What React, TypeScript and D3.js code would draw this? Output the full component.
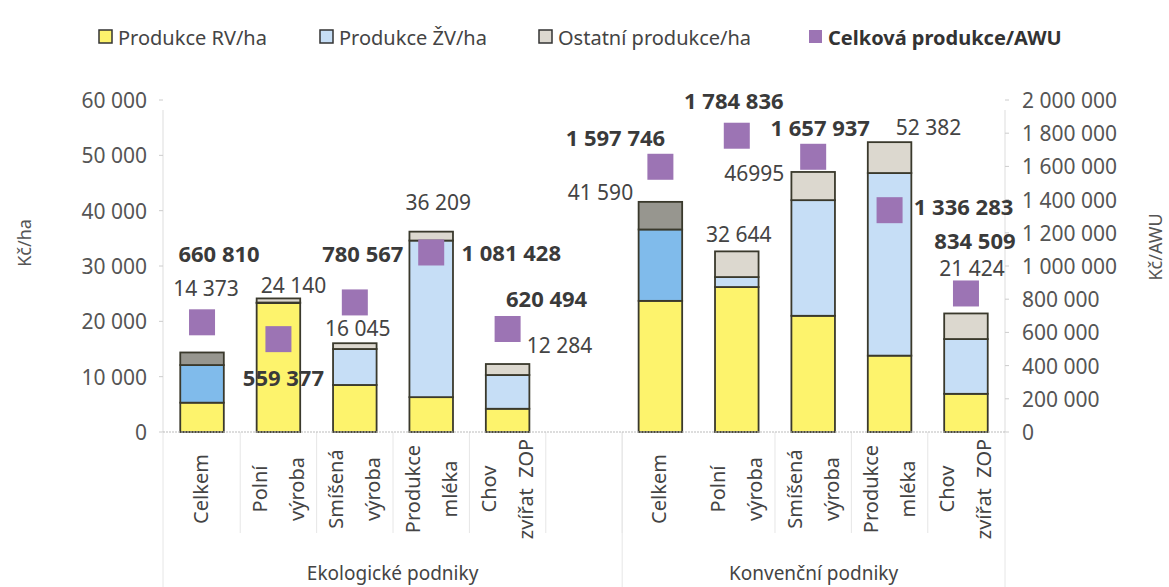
import React from "react";
import * as d3 from "d3";

// categories and groups
const categories = [
  ["Celkem"],
  ["Polní", "výroba"],
  ["Smíšená", "výroba"],
  ["Produkce", "mléka"],
  ["Chov", "zvířat  ZOP"],
];
const groups = ["Ekologické podniky", "Konvenční podniky"];

// Kč/ha stacks
const rvEko = [5300, 23300, 8500, 6300, 4200];
const zvEko = [6800, 100, 6500, 28300, 6100];
const ostEko = [2273, 740, 1045, 1609, 1984];
const totalEko = [14373, 24140, 16045, 36209, 12284];

const rvKonv = [23700, 26200, 21000, 13800, 6900];
const zvKonv = [12900, 1800, 20900, 33000, 9900];
const ostKonv = [4990, 4644, 5095, 5582, 4624];
const totalKonv = [41590, 32644, 46995, 52382, 21424];

// Kč/AWU
const awuEko = [660810, 559377, 780567, 1081428, 620494];
const awuKonv = [1597746, 1784836, 1657937, 1336283, 834509];

const leftTicks = [0, 10000, 20000, 30000, 40000, 50000, 60000];
const rightTicks = [0, 200000, 400000, 600000, 800000, 1000000, 1200000, 1400000, 1600000, 1800000, 2000000];

const legendItems = ["Produkce RV/ha", "Produkce ŽV/ha", "Ostatní produkce/ha", "Celková produkce/AWU"];

// label placement (offsets from the bar centre / bar top / marker)
const totalOffEko = [[4, -64], [15, -13], [3, -15], [7, -30], [52, -19]];
const totalOffKonv = [[-60, -10], [2, -17], [-59, 1], [39, -15], [6, -45]];
const awuOffEko = [[17, -69], [5, 38], [8, -49], [80, 0], [39, -31]];
const awuOffKonv = [[-45, -30], [-3, -36], [7, -30], [74, -4], [9, -53]];

const FONT = "'Noto Sans', 'Open Sans', sans-serif";
const fmt = (v: number) => d3.format(",")(v).replace(/,/g, " ");
const totalText = (v: number) => (v === 46995 ? "46995" : fmt(v));

const W = 1169;
const H = 587;
const x0 = 163;
const x1 = 1005;
const yBase = 432;
const yTop = 100;

const App = () => {
  const slots = [
    ...categories.map((_, i) => "e" + i),
    "gap",
    ...categories.map((_, i) => "k" + i),
  ];
  const x = d3.scaleBand<string>().domain(slots).range([x0, x1]).paddingInner(0.43).paddingOuter(0.226);
  const yL = d3.scaleLinear().domain([0, 60000]).range([yBase, yTop]);
  const yR = d3.scaleLinear().domain([0, 2000000]).range([yBase, yTop]);
  const bw = x.bandwidth();
  const step = x.step();

  const bars = [
    { key: "e", rv: rvEko, zv: zvEko, ost: ostEko, total: totalEko, awu: awuEko, tOff: totalOffEko, aOff: awuOffEko },
    { key: "k", rv: rvKonv, zv: zvKonv, ost: ostKonv, total: totalKonv, awu: awuKonv, tOff: totalOffKonv, aOff: awuOffKonv },
  ];

  const stack = d3.stack<any>().keys(["rv", "zv", "ost"]);

  const yellow = "#fdf36c";
  const blueDark = "#80bbeb";
  const blueLight = "#c6def6";
  const grayDark = "#97968f";
  const grayLight = "#dcd8cf";
  const outline = "#3a392c";
  const purple = "#9c74b4";

  // boundaries for category tick lines
  const innerLines: number[] = [];
  slots.forEach((s, i) => {
    if (i === 0 || i === 7) return;
    innerLines.push((x(s) as number) - (step * 0.43) / 2);
  });
  const groupLines = [x0, (x("k0") as number) - (step * 0.43) / 2, x1];

  const legendBoxX = [99, 320, 539, 809];
  const legendFill = [yellow, blueLight, grayLight, purple];

  return (
    <div style={{ position: "absolute", left: 0, top: 0 }}>
      <svg width={W} height={H} style={{ display: "block", background: "#fff" }} fontFamily={FONT}>
        {/* legend */}
        {legendItems.map((t, i) => (
          <g key={t}>
            <rect
              x={legendBoxX[i]}
              y={30}
              width={13}
              height={13}
              fill={legendFill[i]}
              stroke={i === 3 ? "none" : "#333"}
              strokeWidth={1.5}
            />
            <text
              x={legendBoxX[i] + 19}
              y={37}
              dominantBaseline="central"
              fontSize={20}
              fontWeight={i === 3 ? 700 : 400}
              fill={i === 3 ? "#333" : "#444"}
            >
              {t}
            </text>
          </g>
        ))}

        {/* axes */}
        <line x1={x0} x2={x0} y1={yTop + 10} y2={yBase} stroke="#ddd" strokeWidth={1} />
        <line x1={x1} x2={x1} y1={yTop + 10} y2={yBase} stroke="#ddd" strokeWidth={1} />
        {leftTicks.map((t) => (
          <g key={"l" + t}>
            <line x1={x0 - 4} x2={x0} y1={yL(t)} y2={yL(t)} stroke="#ccc" />
            <text x={147} y={yL(t)} textAnchor="end" dominantBaseline="central" fontSize={21} fill="#555">
              {fmt(t)}
            </text>
          </g>
        ))}
        {rightTicks.map((t) => (
          <g key={"r" + t}>
            <line x1={x1} x2={x1 + 4} y1={yR(t)} y2={yR(t)} stroke="#ccc" />
            <text x={1022} y={yR(t)} dominantBaseline="central" fontSize={21} fill="#555">
              {fmt(t)}
            </text>
          </g>
        ))}
        <text
          transform={`translate(24,243) rotate(-90)`}
          textAnchor="middle"
          dominantBaseline="central"
          fontSize={18}
          fill="#555"
        >
          Kč/ha
        </text>
        <text
          transform={`translate(1155,247) rotate(-90)`}
          textAnchor="middle"
          dominantBaseline="central"
          fontSize={18}
          fill="#555"
        >
          Kč/AWU
        </text>

        {/* category separators */}
        {innerLines.map((lx, i) => (
          <line key={"il" + i} x1={lx} x2={lx} y1={yBase} y2={533} stroke="#e6e6e6" />
        ))}
        {groupLines.map((lx, i) => (
          <line key={"gl" + i} x1={lx} x2={lx} y1={yBase} y2={H} stroke="#e6e6e6" />
        ))}

        {/* bars */}
        {bars.map((b) => {
          const rows = b.rv.map((_, i) => ({ rv: b.rv[i], zv: b.zv[i], ost: b.ost[i] }));
          const series = stack(rows);
          return (
            <g key={b.key}>
              {series.map((s, si) =>
                s.map((d, i) => {
                  const bx = x(b.key + i) as number;
                  const fill =
                    si === 0 ? yellow : si === 1 ? (i === 0 ? blueDark : blueLight) : i === 0 ? grayDark : grayLight;
                  return (
                    <rect
                      key={si + "-" + i}
                      x={bx}
                      width={bw}
                      y={yL(d[1])}
                      height={yL(d[0]) - yL(d[1])}
                      fill={fill}
                      stroke={outline}
                      strokeWidth={1.8}
                    />
                  );
                })
              )}
            </g>
          );
        })}

        {/* baseline */}
        <line x1={x0} x2={x1} y1={yBase} y2={yBase} stroke="#bbb" strokeDasharray="2 1" />

        {/* category labels */}
        {slots
          .filter((s) => s !== "gap")
          .map((s) => {
            const i = +s.slice(1);
            const cx = (x(s) as number) + bw / 2;
            const lines = categories[i];
            const offs = lines.length === 1 ? [-2] : [-19, 18];
            return lines.map((ln, li) => (
              <text
                key={s + li}
                transform={`translate(${cx + offs[li]},489) rotate(-90)`}
                textAnchor="middle"
                dominantBaseline="central"
                fontSize={20}
                fill="#444"
                style={{ whiteSpace: "pre" }}
              >
                {ln}
              </text>
            ));
          })}

        {/* group labels */}
        {groups.map((g, gi) => {
          const a = gi === 0 ? x0 : groupLines[1];
          const bEnd = gi === 0 ? groupLines[1] : x1;
          return (
            <text key={g} x={(a + bEnd) / 2} y={573} textAnchor="middle" dominantBaseline="central" fontSize={19} fill="#444">
              {g}
            </text>
          );
        })}

        {/* total labels */}
        {bars.map((b) =>
          b.total.map((v, i) => {
            const cx = (x(b.key + i) as number) + bw / 2;
            return (
              <text
                key={"t" + b.key + i}
                x={cx + b.tOff[i][0]}
                y={yL(v) + b.tOff[i][1]}
                textAnchor="middle"
                dominantBaseline="central"
                fontSize={21}
                fill="#444"
              >
                {totalText(v)}
              </text>
            );
          })
        )}

        {/* AWU markers */}
        {bars.map((b) =>
          b.awu.map((v, i) => {
            const cx = (x(b.key + i) as number) + bw / 2;
            return <rect key={"m" + b.key + i} x={cx - 13} y={yR(v) - 13} width={26} height={26} fill={purple} />;
          })
        )}
        {bars.map((b) =>
          b.awu.map((v, i) => {
            const cx = (x(b.key + i) as number) + bw / 2;
            return (
              <text
                key={"a" + b.key + i}
                x={cx + b.aOff[i][0]}
                y={yR(v) + b.aOff[i][1]}
                textAnchor="middle"
                dominantBaseline="central"
                fontSize={22}
                fontWeight={700}
                fill="#3a3a3a"
              >
                {fmt(v)}
              </text>
            );
          })
        )}
      </svg>
    </div>
  );
};

export default App;
